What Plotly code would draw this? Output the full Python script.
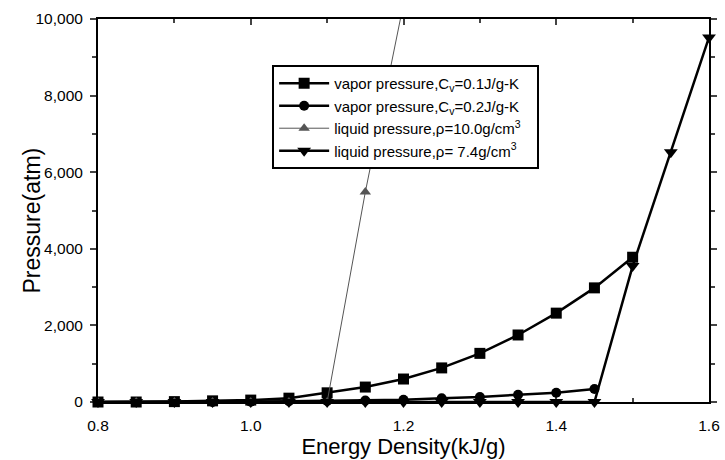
import plotly.graph_objects as go

x_vap1 = [0.80, 0.85, 0.90, 0.95, 1.00, 1.05, 1.10, 1.15, 1.20, 1.25, 1.30, 1.35, 1.40, 1.45, 1.50]
y_vap1 = [0, 0, 10, 30, 50, 100, 240, 390, 600, 890, 1270, 1750, 2320, 2980, 3780]

x_vap2 = [0.80, 0.85, 0.90, 0.95, 1.00, 1.05, 1.10, 1.15, 1.20, 1.25, 1.30, 1.35, 1.40, 1.45]
y_vap2 = [0, 0, 0, 0, 10, 20, 30, 40, 60, 100, 130, 190, 240, 340]

x_liq10 = [0.80, 0.85, 0.90, 0.95, 1.00, 1.05, 1.10, 1.15, 1.20]
y_liq10 = [0, 0, 0, 0, 0, 0, 0, 5480, 10400]

x_liq74 = [0.80, 0.85, 0.90, 0.95, 1.00, 1.05, 1.10, 1.15, 1.20, 1.25, 1.30, 1.35, 1.40, 1.45, 1.50, 1.55, 1.60]
y_liq74 = [0, 0, 0, 0, 0, 0, 0, 0, 0, 0, 0, 0, 0, 0, 3550, 6520, 9520]

names = [
    "vapor pressure,C<sub>v</sub>=0.1J/g-K\u00a0\u00a0\u00a0",
    "vapor pressure,C<sub>v</sub>=0.2J/g-K",
    "liquid pressure,\u03c1=10.0g/cm<sup>3</sup>",
    "liquid pressure,\u03c1= 7.4g/cm<sup>3</sup>",
]

x_ticks = [0.8, 1.0, 1.2, 1.4, 1.6]
y_ticks = [0, 2000, 4000, 6000, 8000, 10000]

fig = go.Figure()
fig.add_trace(go.Scatter(x=x_vap1, y=y_vap1, name=names[0], mode="lines+markers",
                         line=dict(color="black", width=2.5),
                         marker=dict(symbol="square", size=11, color="black"),
                         cliponaxis=False))
fig.add_trace(go.Scatter(x=x_vap2, y=y_vap2, name=names[1], mode="lines+markers",
                         line=dict(color="black", width=2.5),
                         marker=dict(symbol="circle", size=10, color="black"),
                         cliponaxis=False))
fig.add_trace(go.Scatter(x=x_liq10, y=y_liq10, name=names[2], mode="lines+markers",
                         line=dict(color="#555555", width=1),
                         marker=dict(symbol="triangle-up", size=10, color="#555555"),
                         cliponaxis=True))
fig.add_trace(go.Scatter(x=x_liq74, y=y_liq74, name=names[3], mode="lines+markers",
                         line=dict(color="black", width=2.5),
                         marker=dict(symbol="triangle-down", size=12, color="black"),
                         cliponaxis=False))

fig.update_layout(
    width=725, height=460,
    margin=dict(l=98, r=5, t=19, b=58),
    paper_bgcolor="white", plot_bgcolor="white",
    font=dict(family="Liberation Sans, Arial, sans-serif", color="black", size=15),
    showlegend=True,
    legend=dict(x=0.285, y=0.88, xanchor="left", yanchor="top",
                bgcolor="white", bordercolor="black", borderwidth=2,
                font=dict(size=15), tracegroupgap=0, itemwidth=50),
    annotations=[dict(text="Pressure(atm)", textangle=-90, xref="paper", yref="paper",
                      x=-0.108, y=0.474, xanchor="center", yanchor="middle",
                      showarrow=False, font=dict(size=23))],
)
fig.update_xaxes(range=[0.8, 1.6], tickvals=x_ticks, ticktext=["0.8", "1.0", "1.2", "1.4", "1.6"],
                 ticks="inside", ticklen=6, tickwidth=2, showline=True, linecolor="black", linewidth=2,
                 mirror="ticks", showgrid=False, zeroline=False,
                 tickfont=dict(size=15.5), ticklabelstandoff=8,
                 minor=dict(tickvals=[0.9, 1.1, 1.3, 1.5], ticks="inside", ticklen=4, tickwidth=2),
                 title=dict(text="Energy Density(kJ/g)", font=dict(size=22), standoff=4),
                 layer="below traces")
fig.update_yaxes(range=[0, 10000], tickvals=y_ticks, tickformat=",d",
                 ticks="outside", ticklen=6, tickwidth=2, showline=True, linecolor="black", linewidth=2,
                 mirror="ticks", showgrid=False, zeroline=False,
                 tickfont=dict(size=15.5), ticklabelstandoff=4,
                 minor=dict(tickvals=[1000, 3000, 5000, 7000, 9000], ticks="outside", ticklen=4, tickwidth=2),
                 layer="below traces")

post_js = (
    "var gd=document.getElementById('{plot_id}');"
    "document.documentElement.style.margin='0';"
    "document.documentElement.style.overflow='hidden';"
    "document.body.style.margin='0';"
    "document.body.style.overflow='hidden';"
    "if(gd&&gd.parentElement){gd.parentElement.style.height='460px';"
    "gd.parentElement.style.overflow='hidden';}"
)

fig.write_html("out.html", config={"displayModeBar": False}, post_script=post_js)
